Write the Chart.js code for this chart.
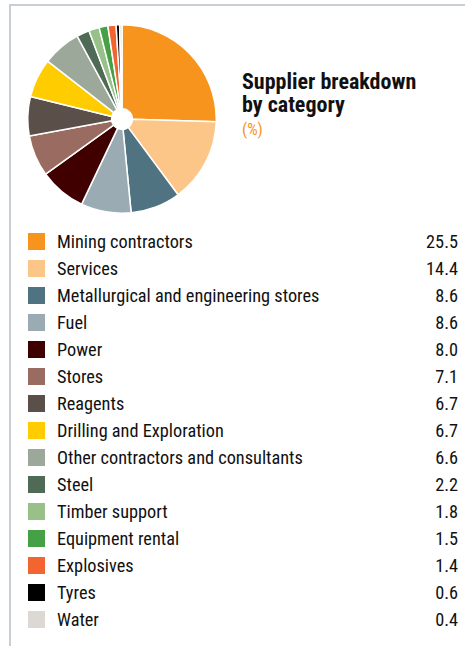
<!DOCTYPE html>
<html>
<head>
<meta charset="utf-8">
<script src="https://cdn.jsdelivr.net/npm/chart.js@4"></script>
<style>
  html, body { margin: 0; padding: 0; background: #fff; }
  body { width: 465px; height: 646px; position: relative; overflow: hidden;
         font-family: "Liberation Sans Narrow", "Arial Narrow", "Roboto Condensed", sans-serif; color: #111; }
  .frame { position: absolute; left: 9px; top: 4px; width: 470px; height: 640px;
           border-top: 2px solid #c9ced4; border-left: 2px solid #c9ced4; border-bottom: 1px solid #eceef0; }
  #pieWrap { position: absolute; left: 27px; top: 24px; width: 190px; height: 190px; }
  .title { position: absolute; left: 242px; top: 70px; font-weight: bold; font-size: 22px; line-height: 23px; color: #111; }
  .unit { position: absolute; left: 242px; top: 120px; font-size: 16.5px; color: #F7941D; }
  .legend { position: absolute; left: 0; top: 0; width: 465px; }
  .row { position: absolute; left: 0; width: 465px; height: 27px; }
  .sw { position: absolute; left: 28px; top: 0; width: 17px; height: 17px; }
  .lab { position: absolute; left: 57px; top: -3px; font-size: 18.3px; line-height: 24px; white-space: nowrap; }
  .val { position: absolute; right: 7px; top: -3px; font-size: 18.3px; line-height: 24px; }
</style>
</head>
<body>
<div class="frame"></div>
<div id="pieWrap"><canvas id="pie"></canvas></div>
<div class="title">Supplier breakdown<br>by category</div>
<div class="unit">(%)</div>
<div class="legend" id="legend"></div>
<script>
const categories = [
  "Mining contractors", "Services", "Metallurgical and engineering stores", "Fuel",
  "Power", "Stores", "Reagents", "Drilling and Exploration",
  "Other contractors and consultants", "Steel", "Timber support", "Equipment rental",
  "Explosives", "Tyres", "Water"
];
const values = [25.5, 14.4, 8.6, 8.6, 8.0, 7.1, 6.7, 6.7, 6.6, 2.2, 1.8, 1.5, 1.4, 0.6, 0.4];
const valueLabels = ["25.5", "14.4", "8.6", "8.6", "8.0", "7.1", "6.7", "6.7", "6.6", "2.2", "1.8", "1.5", "1.4", "0.6", "0.4"];
const colors = [
  "#F7941D", "#FDC689", "#4F7380", "#9AABB3", "#400000", "#9A6B60", "#5B4F4A", "#FFCC00",
  "#9BA89A", "#4F6B55", "#98C18A", "#46A046", "#F26530", "#000000", "#DCD9D4"
];

const legend = document.getElementById('legend');
categories.forEach((c, i) => {
  const row = document.createElement('div');
  row.className = 'row';
  row.style.top = (233 + i * 27) + 'px';
  row.innerHTML = '<div class="sw" style="background:' + colors[i] + '"></div>' +
                  '<div class="lab">' + c + '</div>' +
                  '<div class="val">' + valueLabels[i] + '</div>';
  legend.appendChild(row);
});

new Chart(document.getElementById('pie'), {
  type: 'doughnut',
  data: {
    labels: categories,
    datasets: [{
      data: values,
      backgroundColor: colors,
      borderColor: '#ffffff',
      borderWidth: 1.5
    }]
  },
  options: {
    responsive: true,
    maintainAspectRatio: false,
    animation: false,
    cutout: '11%',
    layout: { padding: 0 },
    plugins: { legend: { display: false }, tooltip: { enabled: false } }
  }
});
</script>
</body>
</html>
